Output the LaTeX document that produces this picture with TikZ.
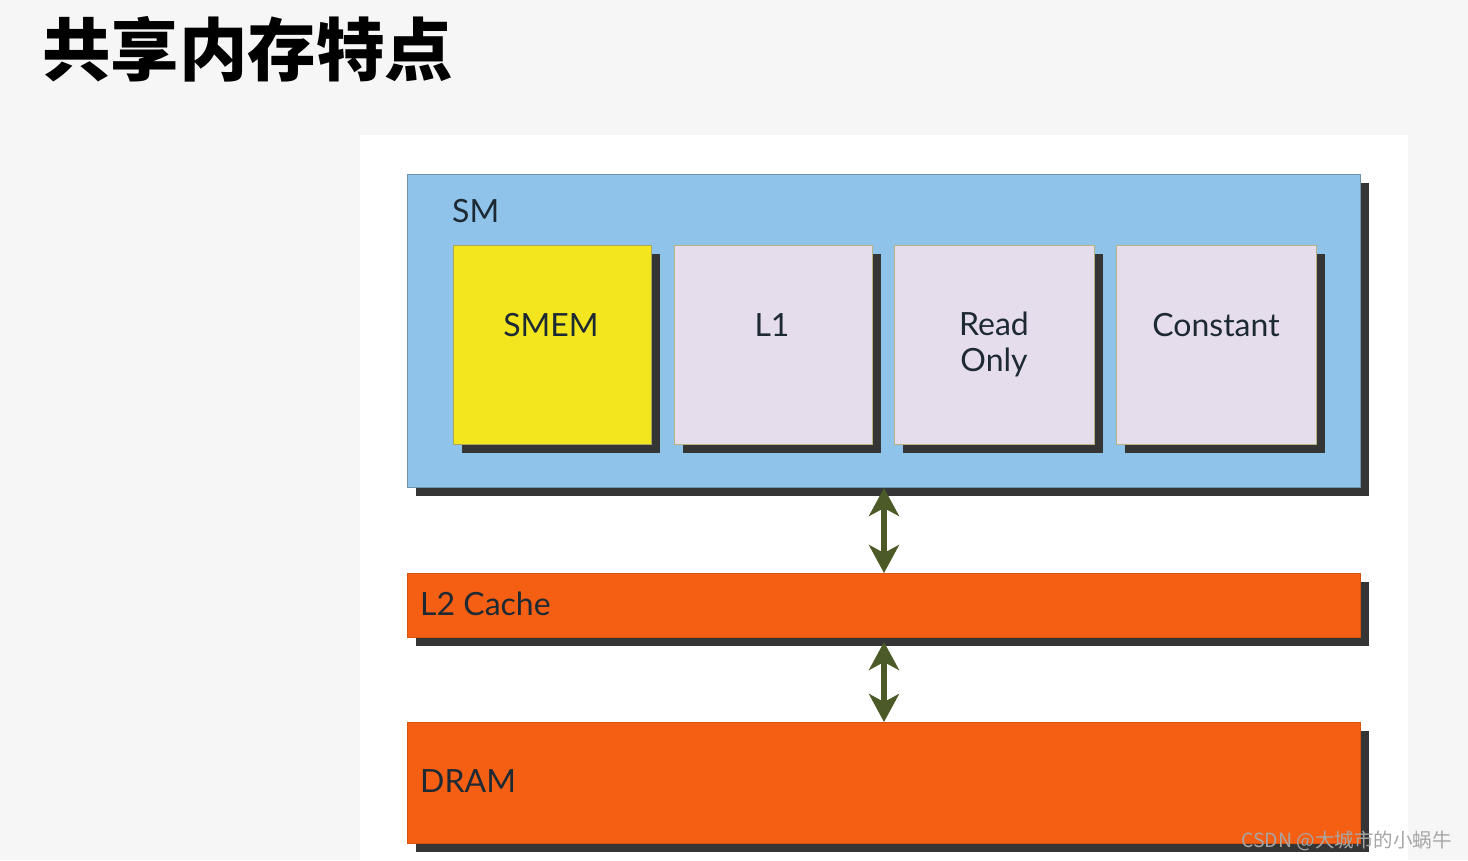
\documentclass[tikz,border=0pt]{standalone}
\usepackage{fontspec}
\setmainfont{Lato}
\newfontfamily\cjk{Noto Sans CJK SC}
\usetikzlibrary{arrows.meta,shadows}
\definecolor{bgc}{HTML}{F6F6F6}
\definecolor{smc}{HTML}{8FC3EA}
\definecolor{smb}{HTML}{6D93AE}
\definecolor{yel}{HTML}{F3E61E}
\definecolor{yelb}{HTML}{A8A55C}
\definecolor{lav}{HTML}{E5DDEB}
\definecolor{lavb}{HTML}{B7B482}
\definecolor{org}{HTML}{F55F13}
\definecolor{orgb}{HTML}{D9530F}
\definecolor{shc}{HTML}{353535}
\definecolor{arr}{HTML}{4B5A26}
\definecolor{txt}{HTML}{1E2A33}
\tikzset{
  shbox/.style={draw=#1, line width=1pt, anchor=north west, inner sep=0pt,
    general shadow={fill=shc, shadow xshift=8pt, shadow yshift=-8pt}},
  lbl/.style={font=\fontsize{32}{36}\selectfont, text=txt, inner sep=0pt},
  biarrow/.style={draw=arr, line width=6.5pt,
    {Stealth[length=28pt,width=30pt,inset=8pt]}-{Stealth[length=28pt,width=30pt,inset=8pt]}}
}
\begin{document}
\begin{tikzpicture}[x=1pt,y=-1pt]
\useasboundingbox (0,0) rectangle (1468,860);
\fill[bgc] (0,0) rectangle (1468,860);
\fill[white] (360,135) rectangle (1408,860);
% title
\node[anchor=west, inner sep=0pt, font=\cjk\bfseries\fontsize{68.5}{70}\selectfont] (title) at (42,49) {共享内存特点};
% SM
\node[shbox=smb, fill=smc, minimum width=953pt, minimum height=313pt] (sm) at (407,174) {};
\node[lbl, anchor=base west] (smlbl) at (452,222) {SM};
% inner boxes
\node[shbox=yelb, fill=yel, minimum width=198pt, minimum height=199pt] (smem) at (453,245) {};
\node[shbox=lavb, fill=lav, minimum width=198pt, minimum height=199pt] (l1) at (674,245) {};
\node[shbox=lavb, fill=lav, minimum width=200pt, minimum height=199pt] (ro) at (894,245) {};
\node[shbox=lavb, fill=lav, minimum width=200pt, minimum height=199pt] (const) at (1116,245) {};
\node[lbl] (smemlbl) at (551,325) {SMEM};
\node[lbl] (l1lbl) at (772,325) {L1};
\node[lbl, align=center] (rolbl) at (994,344) {Read\\Only};
\node[lbl] (constlbl) at (1216,325) {Constant};
% L2 and DRAM
\node[shbox=orgb, fill=org, minimum width=953pt, minimum height=64pt] (l2) at (407,573) {};
\node[lbl, anchor=base west] (l2lbl) at (420,615) {L2 Cache};
\node[shbox=orgb, fill=org, minimum width=953pt, minimum height=121pt] (dram) at (407,722) {};
\node[lbl, anchor=base west] (dramlbl) at (420,792) {DRAM};
% arrows
\coordinate (ax) at (884,0);
\draw[biarrow] (sm.south -| ax) -- (l2.north -| ax);
\draw[biarrow] ([yshift=-4pt]l2.south -| ax) -- (dram.north -| ax);
% watermark
\node[anchor=base east, inner sep=0pt, text=black!35, font=\cjk\fontsize{19.5}{21}\selectfont] (wm) at (1452,847) {CSDN @大城市的小蜗牛};
\end{tikzpicture}
\end{document}
